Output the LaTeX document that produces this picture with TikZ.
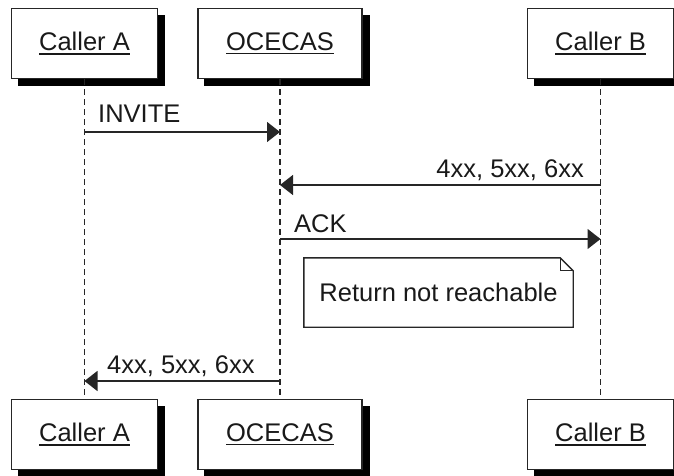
\documentclass[tikz,border=0pt]{standalone}
\usepackage{fontspec}
\setmainfont{Liberation Sans}
\usetikzlibrary{arrows.meta,backgrounds}
\newcommand\uname[1]{\setbox0\hbox{#1}\rlap{\rule[-4pt]{\wd0}{1.5pt}}\box0}
\tikzset{
  part/.style={draw=black!85, line width=1.5pt, fill=white, minimum height=70pt,
    inner sep=0pt, font=\fontsize{25.5}{30}\selectfont, text=black!90},
  shadowbox/.style={fill=black},
  lifeline/.style={draw=black!85, line width=1.2pt, dash pattern=on 6pt off 4pt},
  msg/.style={draw=black!85, line width=1.5pt, -{Triangle[length=13pt,width=20pt]}},
  lbl/.style={font=\fontsize{25.5}{30}\selectfont, text=black!90, inner sep=0pt},
  notebox/.style={minimum width=269pt, minimum height=69pt, inner sep=0pt,
    font=\fontsize{25.5}{30}\selectfont, text=black!90},
}
\begin{document}
\begin{tikzpicture}[x=1pt,y=-1pt]
  \useasboundingbox (0,0) rectangle (674,476);

  % participants, top and bottom
  \node[part, minimum width=146pt] (a1) at (84.5,43.5) {\uname{Caller A}};
  \node[part, minimum width=164pt] (o1) at (280,43.5) {\uname{OCECAS}};
  \node[part, minimum width=146pt] (b1) at (600.5,43.5) {\uname{Caller B}};
  \node[part, minimum width=146pt] (a2) at (84.5,434.5) {\uname{Caller A}};
  \node[part, minimum width=164pt] (o2) at (280,434.5) {\uname{OCECAS}};
  \node[part, minimum width=146pt] (b2) at (600.5,434.5) {\uname{Caller B}};

  % solid shadows behind the participant boxes
  \begin{scope}[on background layer]
    \foreach \p in {a1,o1,b1,a2,o2,b2}
      \fill[shadowbox] ([shift={(7pt,-7pt)}]\p.south west)
        rectangle ([shift={(7pt,-7pt)}]\p.north east);
  \end{scope}

  % lifelines
  \draw[lifeline] (a1.south) -- (a2.north);
  \draw[lifeline] (o1.south) -- (o2.north);
  \draw[lifeline] (b1.south) -- (b2.north);

  % message end points on the lifelines
  \coordinate (inv-a) at (a1.south |- 0,132);
  \coordinate (inv-o) at (o1.south |- 0,132);
  \coordinate (err-b) at (b1.south |- 0,185);
  \coordinate (err-o) at (o1.south |- 0,185);
  \coordinate (ack-o) at (o1.south |- 0,239);
  \coordinate (ack-b) at (b1.south |- 0,239);
  \coordinate (ret-o) at (o1.south |- 0,381);
  \coordinate (ret-a) at (a1.south |- 0,381);

  % messages
  \draw[msg] (inv-a) -- (inv-o);
  \node[lbl, anchor=base west] (l-inv) at (98,123) {INVITE};
  \draw[msg] (err-b) -- (err-o);
  \node[lbl, anchor=base east] (l-err) at (584,177) {4xx, 5xx, 6xx};
  \draw[msg] (ack-o) -- (ack-b);
  \node[lbl, anchor=base west] (l-ack) at (294,232) {ACK};
  \draw[msg] (ret-o) -- (ret-a);
  \node[lbl, anchor=base west] (l-ret) at (107,373) {4xx, 5xx, 6xx};

  % note with folded corner
  \node[notebox] (note) at (438.5,292.5) {};
  \draw[draw=black!85, line width=1.4pt, fill=white, line join=miter]
    (note.north west) -- ([xshift=-13pt]note.north east)
    -- ([yshift=-13pt]note.north east) -- (note.south east)
    -- (note.south west) -- cycle;
  \draw[draw=black!85, line width=1pt]
    ([xshift=-13pt]note.north east) -- ([xshift=-13pt,yshift=-13pt]note.north east)
    -- ([yshift=-13pt]note.north east);
  \node[notebox] (note-text) at (note.center) {Return not reachable};
\end{tikzpicture}
\end{document}
